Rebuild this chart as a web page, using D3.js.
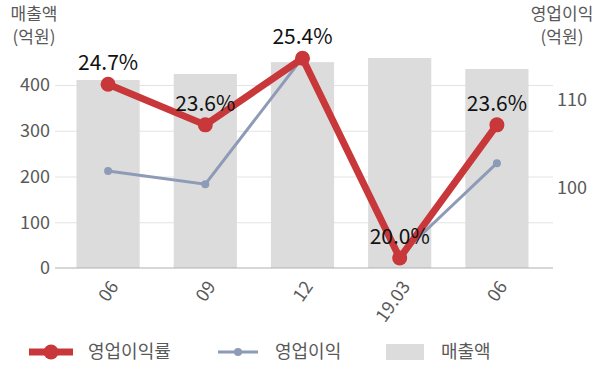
<!DOCTYPE html>
<html>
<head>
<meta charset="utf-8">
<script src="https://cdn.jsdelivr.net/npm/d3@7"></script>
<style>
  body { margin: 0; background: #fff; }
  text { font-family: "Noto Sans CJK KR", "Noto Sans", sans-serif; }
</style>
</head>
<body>
<div id="container"></div>
<script>
/* CONSTANTS AND GLOBALS */
const width = 600;
const height = 383;

/* DATA */
const categories = ["06", "09", "12", "19.03", "06"];
const sales = [411, 424, 450, 459, 435];            // 매출액 (억원), left axis
const opProfit = [101.9, 100.4, 114.8, 92.3, 102.8]; // 영업이익 (억원), right axis
const opMargin = [24.7, 23.6, 25.4, 20.0, 23.6];     // 영업이익률 (%)
const leftTicks = [0, 100, 200, 300, 400];
const rightTicks = [100, 110];

const red = "#c8373a";
const blue = "#8e9bb6";
const barColor = "#dcdcdc";
const gray = "#595959";

const svg = d3.select("#container")
  .append("svg")
  .attr("width", width)
  .attr("height", height)

/* SCALES */
const xScale = d3.scaleBand()
  .domain(d3.range(categories.length))
  .range([59, 546])
  .paddingInner(0.35)
  .paddingOuter(0.18)

const yLeft = d3.scaleLinear().domain([0, 400]).range([268, 85])
const yRight = d3.scaleLinear().domain([100, 110]).range([187.7, 100])
const yPct = d3.scaleLinear().domain([20, 25.4]).range([258, 58.3])

const cx = i => xScale(i) + xScale.bandwidth() / 2

/* GRID */
svg.append("g")
  .attr("transform", "translate(55,0)")
  .call(d3.axisLeft(yLeft).tickValues(leftTicks.slice(1)).tickSize(-498).tickFormat(""))
  .call(g => g.select(".domain").remove())
  .call(g => g.selectAll("line").attr("stroke", "#e3e3e3"))

/* BARS */
svg.selectAll("rect.bar")
  .data(sales)
  .join("rect")
  .attr("class", "bar")
  .attr("x", (d, i) => xScale(i))
  .attr("y", d => yLeft(d))
  .attr("width", xScale.bandwidth())
  .attr("height", d => yLeft(0) - yLeft(d))
  .attr("fill", barColor)

// baseline
svg.append("line")
  .attr("x1", 55).attr("x2", 553)
  .attr("y1", yLeft(0)).attr("y2", yLeft(0))
  .attr("stroke", "#b0b0b0")
  .attr("stroke-width", 1.2)

/* AXES */
svg.append("g")
  .attr("transform", "translate(55,0)")
  .call(d3.axisLeft(yLeft).tickValues(leftTicks).tickSize(0).tickPadding(5))
  .call(g => g.select(".domain").remove())
  .call(g => g.selectAll("text").attr("fill", gray).style("font-size", "18px"))

svg.append("g")
  .attr("transform", "translate(553,0)")
  .call(d3.axisRight(yRight).tickValues(rightTicks).tickSize(0).tickPadding(4))
  .call(g => g.select(".domain").remove())
  .call(g => g.selectAll("text").attr("fill", gray).style("font-size", "18px"))

svg.append("g")
  .attr("transform", `translate(0,${yLeft(0)})`)
  .call(d3.axisBottom(xScale).tickFormat(i => categories[i]).tickSize(0))
  .call(g => g.select(".domain").remove())
  .call(g => g.selectAll("text")
    .attr("fill", gray)
    .style("font-size", "18px")
    .attr("x", 0).attr("y", 0).attr("dy", "0.35em")
    .attr("text-anchor", "end")
    .attr("transform", "translate(6,15) rotate(-55)"))

// axis titles
const titles = [
  { x: 34, lines: ["매출액", "(억원)"] },
  { x: 562, lines: ["영업이익", "(억원)"] }
]
titles.forEach(t => {
  t.lines.forEach((s, k) => {
    svg.append("text")
      .attr("x", t.x).attr("y", 20 + k * 23)
      .attr("text-anchor", "middle")
      .attr("fill", gray)
      .style("font-size", "17px")
      .text(s)
  })
})

/* LINES */
const profitLine = d3.line().x((d, i) => cx(i)).y(d => yRight(d))
svg.append("path")
  .datum(opProfit)
  .attr("d", profitLine)
  .attr("fill", "none")
  .attr("stroke", blue)
  .attr("stroke-width", 3)

svg.selectAll("circle.profit")
  .data(opProfit)
  .join("circle")
  .attr("class", "profit")
  .attr("cx", (d, i) => cx(i))
  .attr("cy", d => yRight(d))
  .attr("r", 4)
  .attr("fill", blue)

const marginLine = d3.line().x((d, i) => cx(i)).y(d => yPct(d))
svg.append("path")
  .datum(opMargin)
  .attr("d", marginLine)
  .attr("fill", "none")
  .attr("stroke", red)
  .attr("stroke-width", 7)
  .attr("stroke-linejoin", "round")

svg.selectAll("circle.margin")
  .data(opMargin)
  .join("circle")
  .attr("class", "margin")
  .attr("cx", (d, i) => cx(i))
  .attr("cy", d => yPct(d))
  .attr("r", 7.5)
  .attr("fill", red)

svg.selectAll("text.pct")
  .data(opMargin)
  .join("text")
  .attr("class", "pct")
  .attr("x", (d, i) => cx(i))
  .attr("y", d => yPct(d) - 14)
  .attr("text-anchor", "middle")
  .attr("fill", "#111")
  .style("font-size", "21px")
  .text(d => d.toFixed(1) + "%")

/* LEGEND */
const ly = 352
const legend = svg.append("g")
legend.append("line").attr("x1", 29).attr("x2", 73).attr("y1", ly).attr("y2", ly)
  .attr("stroke", red).attr("stroke-width", 7)
legend.append("circle").attr("cx", 51).attr("cy", ly).attr("r", 7.5).attr("fill", red)
legend.append("text").attr("x", 88).attr("y", ly).attr("dy", "0.35em")
  .attr("fill", gray).style("font-size", "18px").text("영업이익률")

legend.append("line").attr("x1", 218).attr("x2", 258).attr("y1", ly).attr("y2", ly)
  .attr("stroke", blue).attr("stroke-width", 3)
legend.append("circle").attr("cx", 238).attr("cy", ly).attr("r", 4).attr("fill", blue)
legend.append("text").attr("x", 275).attr("y", ly).attr("dy", "0.35em")
  .attr("fill", gray).style("font-size", "18px").text("영업이익")

legend.append("rect").attr("x", 386).attr("y", ly - 8).attr("width", 38).attr("height", 16)
  .attr("fill", barColor)
legend.append("text").attr("x", 441).attr("y", ly).attr("dy", "0.35em")
  .attr("fill", gray).style("font-size", "18px").text("매출액")
</script>
</body>
</html>
